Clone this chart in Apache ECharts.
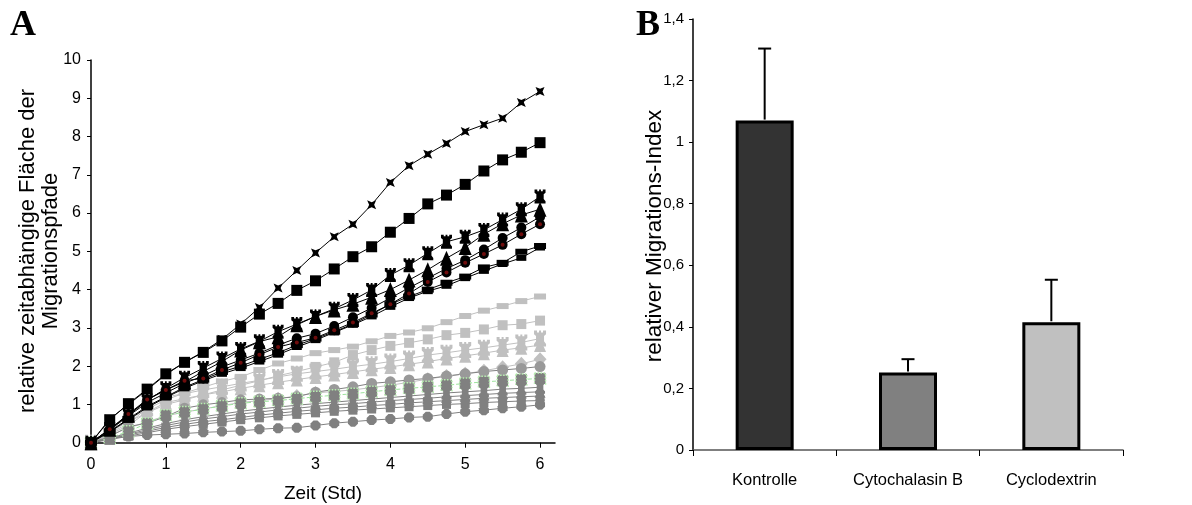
<!DOCTYPE html>
<html><head><meta charset="utf-8">
<script src="https://cdn.jsdelivr.net/npm/echarts@6/dist/echarts.min.js"></script>
<style>html,body{margin:0;padding:0;background:#fff}#c{width:1192px;height:505px}</style>
</head><body><div id="c"></div>
<script>
// ---------- Panel A data ----------
const times = [0,0.25,0.5,0.75,1,1.25,1.5,1.75,2,2.25,2.5,2.75,3,3.25,3.5,3.75,4,4.25,4.5,4.75,5,5.25,5.5,5.75,6];
const xTicksA = [0,1,2,3,4,5,6];
// Kontrolle (black)
const kStar    = [0,0.62,1.0,1.38,1.78,2.1,2.38,2.7,3.1,3.53,4.04,4.5,4.96,5.38,5.71,6.22,6.8,7.24,7.54,7.82,8.13,8.31,8.48,8.89,9.18];
const kSquare  = [0,0.6,1.02,1.4,1.8,2.1,2.36,2.66,3.02,3.36,3.64,3.98,4.23,4.54,4.86,5.12,5.5,5.86,6.24,6.47,6.75,7.1,7.39,7.59,7.84];
const kTower   = [0,0.36,0.72,1.1,1.42,1.7,1.95,2.2,2.45,2.65,2.9,3.1,3.3,3.5,3.73,3.99,4.38,4.64,4.95,5.25,5.38,5.56,5.83,6.1,6.43];
const kTri     = [0,0.35,0.72,1.12,1.38,1.59,1.86,2.12,2.42,2.64,2.77,3.08,3.3,3.47,3.62,3.8,4.0,4.25,4.52,4.82,5.1,5.45,5.72,5.95,6.1];
const kCircle  = [0,0.33,0.7,1.05,1.3,1.55,1.75,1.98,2.16,2.34,2.55,2.73,2.85,3.05,3.28,3.52,3.78,4.05,4.3,4.55,4.77,5.05,5.35,5.62,5.9];
const kRedDot  = [0,0.35,0.75,1.13,1.38,1.62,1.68,1.9,2.09,2.3,2.5,2.62,2.74,2.94,3.14,3.38,3.62,3.9,4.2,4.45,4.7,4.93,5.17,5.45,5.71];
const kDash    = [0,0.3,0.62,0.95,1.2,1.45,1.65,1.85,2.0,2.18,2.35,2.55,2.72,2.9,3.1,3.35,3.62,3.82,4.0,4.18,4.34,4.58,4.7,4.99,5.14];
const kSmallSq = [0,0.28,0.6,0.92,1.18,1.42,1.62,1.8,1.95,2.12,2.3,2.5,2.68,2.88,3.08,3.3,3.55,3.78,3.96,4.1,4.3,4.49,4.67,4.83,5.1];
// Cyclodextrin (light grey)
const lDash    = [0,0.3,0.6,0.88,1.12,1.3,1.45,1.6,1.72,1.9,2.07,2.2,2.34,2.42,2.51,2.65,2.79,2.88,2.99,3.15,3.31,3.45,3.57,3.7,3.82];
const lSquare  = [0,0.28,0.55,0.78,1.0,1.12,1.25,1.38,1.5,1.62,1.75,1.86,1.98,2.1,2.29,2.42,2.53,2.61,2.7,2.81,2.87,2.96,3.07,3.1,3.19];
const lTower   = [0,0.25,0.5,0.9,1.2,1.28,1.38,1.46,1.55,1.63,1.72,1.8,1.86,1.92,1.99,2.05,2.12,2.2,2.29,2.35,2.42,2.48,2.55,2.62,2.72];
const lTri     = [0,0.22,0.45,0.8,1.05,1.15,1.25,1.33,1.42,1.5,1.58,1.65,1.72,1.78,1.85,1.92,1.98,2.05,2.12,2.2,2.27,2.34,2.42,2.48,2.55];
const lDiamond = [0,0.2,0.38,0.55,0.7,0.8,0.88,0.97,1.05,1.1,1.15,1.22,1.3,1.34,1.38,1.44,1.5,1.58,1.66,1.74,1.8,1.88,1.97,2.06,2.18];
// Cytochalasin B (dark grey)
const dCircle  = [0,0.16,0.42,0.51,0.68,0.9,0.99,1.05,1.12,1.14,1.16,1.2,1.32,1.39,1.46,1.55,1.59,1.64,1.68,1.74,1.8,1.86,1.9,1.94,1.99];
const dGreen   = [0,0.12,0.3,0.5,0.72,0.8,0.88,0.96,1.03,1.07,1.1,1.15,1.2,1.24,1.28,1.33,1.38,1.42,1.46,1.5,1.55,1.59,1.62,1.65,1.68];
const dTower   = [0,0.12,0.25,0.38,0.5,0.6,0.68,0.75,0.82,0.88,0.93,0.98,1.02,1.06,1.1,1.14,1.18,1.22,1.26,1.3,1.33,1.36,1.4,1.42,1.45];
const dTri     = [0,0.1,0.22,0.34,0.45,0.54,0.62,0.68,0.75,0.8,0.86,0.9,0.95,0.99,1.02,1.06,1.1,1.13,1.16,1.2,1.23,1.26,1.29,1.31,1.33];
const dStar    = [0,0.1,0.2,0.3,0.4,0.48,0.55,0.6,0.66,0.72,0.77,0.82,0.86,0.9,0.93,0.97,1.0,1.04,1.07,1.1,1.13,1.16,1.18,1.2,1.22];
const dSquare  = [0,0.08,0.17,0.26,0.35,0.42,0.48,0.54,0.6,0.65,0.7,0.74,0.78,0.82,0.85,0.88,0.91,0.94,0.97,1.0,1.02,1.05,1.07,1.09,1.1];
const dOct     = [0,0.12,0.16,0.2,0.22,0.24,0.27,0.29,0.31,0.35,0.38,0.39,0.45,0.51,0.55,0.59,0.62,0.66,0.68,0.75,0.81,0.85,0.9,0.94,0.99];

// ---------- Panel B data ----------
const barCategories = ['Kontrolle','Cytochalasin B','Cyclodextrin'];
const barValues = [1.07, 0.252, 0.415];
const barErrors = [0.234, 0.043, 0.138];
const barColors = ['#333333','#808080','#c0c0c0'];

// ---------- build ----------
const STAR  = 'path://M0,0 L5,2.2 L10,0 L7.8,5 L10,10 L5,7.8 L0,10 L2.2,5 Z';
const TOWER = 'path://M0,0 H3 V2 H5 V0 H7 V2 H9 V0 H12 V4 L10,6 V12 L12,15 V18 H0 V15 L2,12 V6 L0,4 Z';
const OCT   = 'path://M3,0 H7 L10,3 V7 L7,10 H3 L0,7 V3 Z';

function lineSeries(arr, o) {
  return {
    type: 'line', xAxisIndex: 0, yAxisIndex: 0,
    data: times.map((t, i) => [t, arr[i]]),
    symbol: o.symbol, symbolSize: o.size, showAllSymbol: true,
    lineStyle: { color: o.line, width: 1, type: o.dash || 'solid' },
    itemStyle: { color: o.fill, borderColor: o.border || o.fill, borderWidth: o.bw || 0, borderType: o.btype || 'solid' },
    emphasis: { disabled: true }, animation: false, z: o.z || 2
  };
}
const LG = '#c0c0c0', DG = '#808080', MG = '#999999', BK = '#000000';
const series = [
  lineSeries(lDash,    {symbol:'rect', size:[12,6], line:LG, fill:LG}),
  lineSeries(lSquare,  {symbol:'rect', size:10, line:LG, fill:LG}),
  lineSeries(lTower,   {symbol:TOWER, size:[12,16], line:LG, fill:LG}),
  lineSeries(lTri,     {symbol:'triangle', size:[12,14], line:LG, fill:LG}),
  lineSeries(lDiamond, {symbol:'diamond', size:[13,14], line:LG, fill:LG}),
  lineSeries(dCircle,  {symbol:'circle', size:11, line:DG, fill:MG}),
  lineSeries(dGreen,   {symbol:'rect', size:11, line:'#9be39b', fill:DG, border:'#b8f0b0', bw:1.5, btype:'dotted', dash:'dashed'}),
  lineSeries(dTower,   {symbol:TOWER, size:[10,13], line:DG, fill:DG}),
  lineSeries(dTri,     {symbol:'triangle', size:[11,12], line:DG, fill:DG}),
  lineSeries(dStar,    {symbol:STAR, size:10, line:DG, fill:DG}),
  lineSeries(dSquare,  {symbol:'rect', size:9, line:DG, fill:DG}),
  lineSeries(dOct,     {symbol:OCT, size:10, line:DG, fill:DG}),
  lineSeries(kSmallSq, {symbol:'rect', size:[10,6], line:BK, fill:BK, z:3}),
  lineSeries(kDash,    {symbol:'rect', size:[12,6], line:BK, fill:BK, z:3}),
  lineSeries(kRedDot,  {symbol:'circle', size:10, line:BK, fill:BK, z:3}),
  lineSeries(kCircle,  {symbol:'circle', size:10, line:BK, fill:BK, z:3}),
  lineSeries(kTri,     {symbol:'triangle', size:[13,15], line:BK, fill:BK, z:3}),
  lineSeries(kTower,   {symbol:TOWER, size:[11,14], line:BK, fill:BK, z:3}),
  lineSeries(kSquare,  {symbol:'rect', size:11, line:BK, fill:BK, z:3}),
  lineSeries(kStar,    {symbol:STAR, size:9, line:BK, fill:BK, z:3}),
  {
    type: 'scatter', xAxisIndex: 0, yAxisIndex: 0,
    data: times.map((t, i) => [t, kRedDot[i]]),
    symbol: 'circle', symbolSize: 4, itemStyle: { color: '#8b1010' },
    z: 4, animation: false, emphasis: { disabled: true }
  },
  {
    type: 'bar', xAxisIndex: 1, yAxisIndex: 1, barWidth: 58,
    data: barValues.map((v, i) => ({ value: v, itemStyle: { color: barColors[i] } })),
    itemStyle: { borderColor: '#000', borderWidth: 3 },
    animation: false, emphasis: { disabled: true }, z: 2
  },
  {
    type: 'custom', xAxisIndex: 1, yAxisIndex: 1, z: 3, animation: false,
    data: barValues.map((v, i) => [i, v, v + barErrors[i]]),
    renderItem: function (params, api) {
      const p0 = api.coord([api.value(0), api.value(1)]);
      const p1 = api.coord([api.value(0), api.value(2)]);
      const cap = 6.5;
      return { type: 'group', children: [
        { type: 'line', shape: { x1: p0[0], y1: p0[1] - 1, x2: p1[0], y2: p1[1] }, style: { stroke: '#000', lineWidth: 2 } },
        { type: 'line', shape: { x1: p1[0] - cap, y1: p1[1], x2: p1[0] + cap, y2: p1[1] }, style: { stroke: '#000', lineWidth: 2 } }
      ]};
    }
  }
];

const FONT = 'Liberation Sans, Arial, sans-serif';
const chart = echarts.init(document.getElementById('c'), null, { renderer: 'canvas' });
chart.setOption({
  backgroundColor: '#fff',
  animation: false,
  grid: [
    { left: 91, top: 60, width: 464, height: 382.7, outerBoundsMode: 'none', containLabel: false },
    { left: 693, top: 19, width: 430, height: 431, outerBoundsMode: 'none', containLabel: false }
  ],
  xAxis: [
    {
      type: 'value', gridIndex: 0, min: 0, max: 6.2, interval: 1,
      axisLine: { show: true, onZero: false, lineStyle: { color: '#000', width: 1.5 } },
      axisTick: { show: true, length: 5, customValues: xTicksA, lineStyle: { color: '#000' } },
      axisLabel: { customValues: xTicksA, fontSize: 16, color: '#000', fontFamily: FONT, margin: 14 },
      splitLine: { show: false },
      name: 'Zeit (Std)', nameLocation: 'middle', nameGap: 42,
      nameTextStyle: { fontSize: 19, color: '#000', fontFamily: FONT }
    },
    {
      type: 'category', gridIndex: 1, data: barCategories, boundaryGap: true,
      axisLine: { show: true, lineStyle: { color: '#555', width: 1.5 } },
      axisTick: { show: true, length: 6, alignWithLabel: false, lineStyle: { color: '#000' } },
      axisLabel: { fontSize: 16.5, color: '#000', fontFamily: FONT, margin: 22 },
      splitLine: { show: false }
    }
  ],
  yAxis: [
    {
      type: 'value', gridIndex: 0, min: 0, max: 10, interval: 1,
      axisLine: { show: true, onZero: false, lineStyle: { color: '#000', width: 1.5 } },
      axisTick: { show: true, length: 4, lineStyle: { color: '#000' } },
      axisLabel: { fontSize: 16, color: '#000', fontFamily: FONT, margin: 10 },
      splitLine: { show: false }
    },
    {
      type: 'value', gridIndex: 1, min: 0, max: 1.4, interval: 0.2,
      axisLine: { show: true, onZero: false, lineStyle: { color: '#000', width: 1.5 } },
      axisTick: { show: true, length: 4, lineStyle: { color: '#000' } },
      axisLabel: { fontSize: 15, color: '#000', fontFamily: FONT, margin: 9,
        formatter: v => (Math.round(v * 10) / 10).toString().replace('.', ',') },
      splitLine: { show: false }
    }
  ],
  series: series,
  graphic: [
    { type: 'text', left: 10, top: 8, style: { text: 'A', font: 'bold 36px "Liberation Serif", "Times New Roman", serif', fill: '#000' } },
    { type: 'text', left: 636, top: 8, style: { text: 'B', font: 'bold 36px "Liberation Serif", "Times New Roman", serif', fill: '#000' } },
    { type: 'text', x: 39, y: 251, rotation: Math.PI / 2,
      style: { text: 'relative zeitabhängige Fläche der\nMigrationspfade', font: '22px "Liberation Sans", Arial, sans-serif',
        fill: '#000', align: 'center', verticalAlign: 'middle', lineHeight: 23 } },
    { type: 'text', x: 655, y: 236, rotation: Math.PI / 2,
      style: { text: 'relativer Migrations-Index', font: '22.5px "Liberation Sans", Arial, sans-serif',
        fill: '#000', align: 'center', verticalAlign: 'middle' } }
  ]
});
</script></body></html>
